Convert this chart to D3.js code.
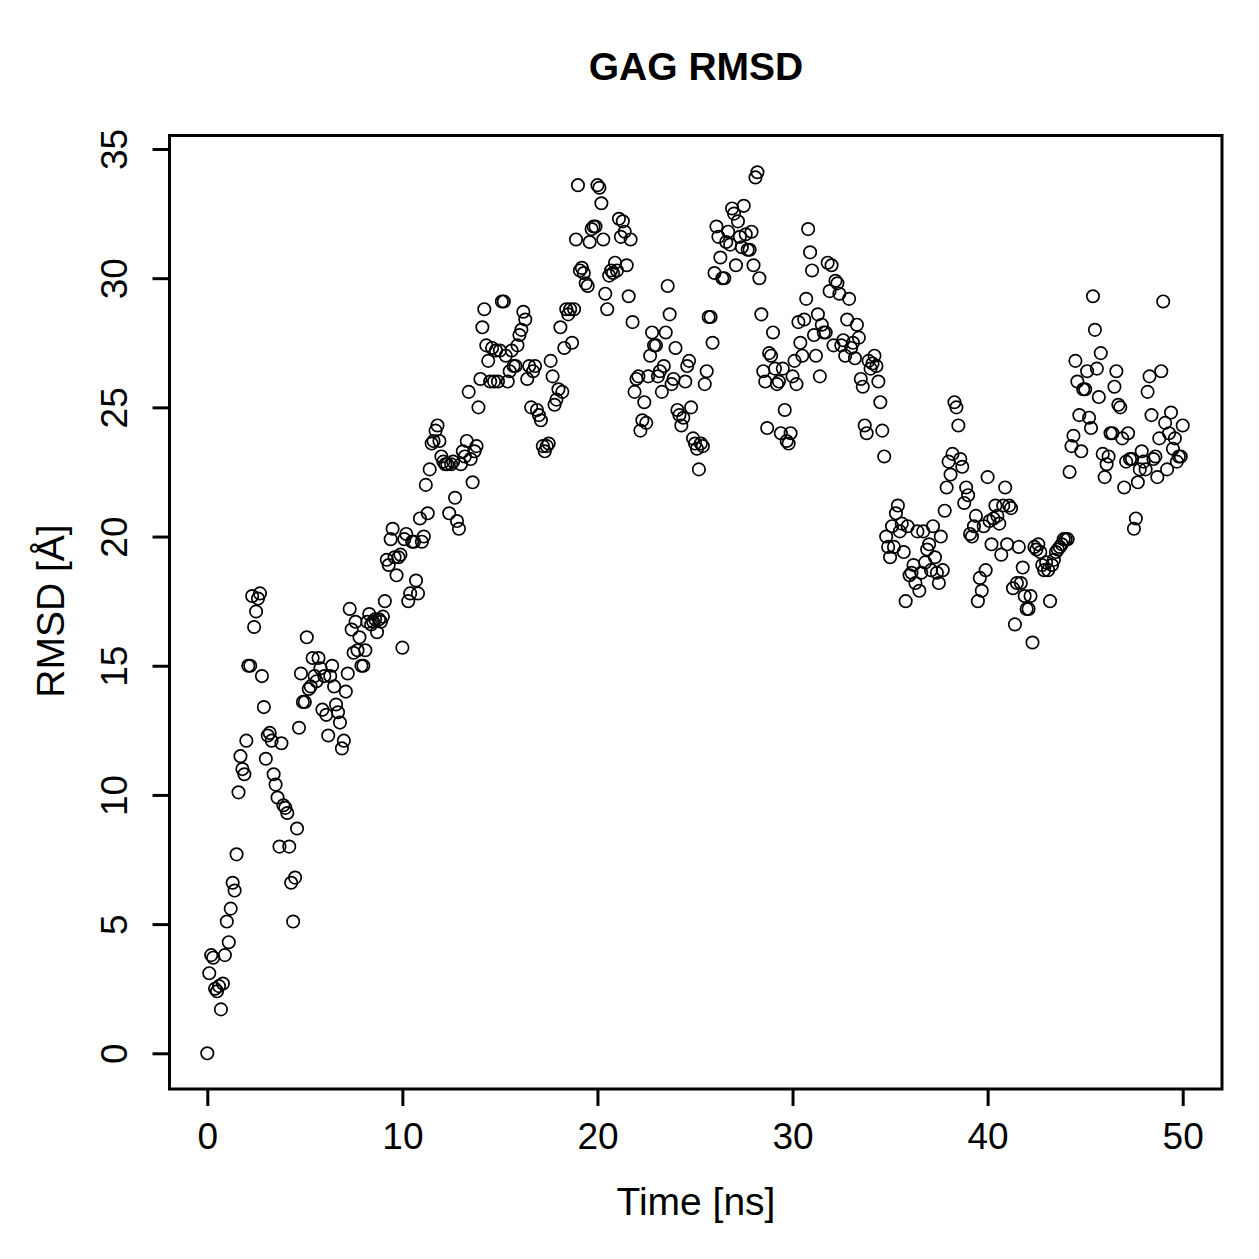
<!DOCTYPE html>
<html>
<head>
<meta charset="utf-8">
<script src="https://cdn.jsdelivr.net/npm/d3@7"></script>
<style>
  body { margin: 0; background: #fff; }
  text { font-family: "Liberation Sans", Arial, Helvetica, sans-serif; fill: #000; }
</style>
</head>
<body>
<div id="container"></div>
<script>
// sampling step of the trajectory (ns)
const timeStep = 0.1;

// RMSD values (Angstrom), one per frame
const rmsd0to10 = [
  0, 3.1, 3.8, 3.7, 2.5, 2.4, 2.6, 1.7, 2.7, 3.8,
  5.1, 4.3, 5.6, 6.6, 6.3, 7.7, 10.1, 11.5, 11.0, 10.8,
  12.1, 15.0, 15.0, 17.7, 16.5, 17.1, 17.6, 17.8, 14.6, 13.4,
  11.4, 12.3, 12.4, 12.1, 10.8, 10.4, 9.9, 8.0, 12.0, 9.6,
  9.5, 9.3, 8.0, 6.6, 5.1, 6.8, 8.7, 12.6, 14.7, 13.6,
  13.6, 16.1, 14.1, 14.2, 15.3, 14.6, 14.4, 15.3, 14.9, 13.3,
  14.6, 13.1, 12.3, 14.6, 15.0, 14.2, 13.5, 13.2, 12.8, 11.8,
  12.1, 14.0, 14.7, 17.2, 16.4, 15.5, 16.7, 15.6, 16.1, 15.0,
  15.0, 15.6, 16.7, 17.0, 16.6, 16.7, 16.8, 16.3, 16.8, 16.7,
  16.9, 17.5, 19.1, 18.9, 19.9, 20.3, 19.2, 18.5, 19.2, 19.3
];
const rmsd10to20 = [
  15.7, 19.9, 20.1, 17.5, 17.8, 19.8, 19.8, 18.3, 17.8, 20.7,
  19.8, 20.0, 22.0, 20.9, 22.6, 23.6, 23.7, 24.1, 24.3, 23.7,
  23.1, 22.9, 22.8, 22.8, 20.9, 22.8, 22.9, 21.5, 20.6, 20.3,
  22.8, 23.3, 23.1, 23.7, 25.6, 23.0, 22.1, 23.3, 23.5, 25.0,
  26.1, 28.1, 28.8, 27.4, 26.8, 26.0, 27.3, 26.0, 27.2, 26.0,
  27.2, 29.1, 29.1, 27.0, 26.0, 26.4, 27.2, 26.6, 26.6, 27.4,
  27.8, 28.0, 28.7, 28.4, 26.1, 26.6, 25.0, 26.4, 26.6, 24.9,
  24.7, 24.5, 23.5, 23.3, 23.5, 23.6, 26.8, 26.2, 25.1, 25.3,
  25.7, 28.1, 25.6, 27.3, 28.8, 28.6, 28.8, 27.5, 28.8, 31.5,
  33.6, 30.3, 30.4, 30.2, 29.8, 29.7, 31.4, 31.9, 32.0, 32.0
];
const rmsd20to30 = [
  33.6, 33.5, 32.9, 31.5, 29.4, 28.8, 30.1, 30.3, 30.2, 30.6,
  30.3, 32.3, 31.6, 32.2, 31.8, 30.5, 29.3, 31.5, 28.3, 25.6,
  26.1, 26.2, 24.1, 24.5, 25.2, 24.4, 26.2, 27.0, 27.9, 27.4,
  27.4, 26.2, 26.4, 25.6, 26.6, 27.9, 29.7, 28.6, 25.9, 26.1,
  27.3, 24.9, 24.7, 24.3, 24.6, 26.0, 26.6, 26.8, 25.0, 23.8,
  23.6, 23.4, 22.6, 23.6, 23.5, 25.9, 26.4, 28.5, 28.5, 27.5,
  30.2, 32.0, 31.6, 30.8, 30.0, 30.0, 31.4, 31.8, 31.3, 32.7,
  32.5, 30.5, 32.2, 31.6, 31.2, 32.8, 31.7, 31.1, 31.1, 31.8,
  30.5, 33.9, 34.1, 30.0, 28.6, 26.4, 26.0, 24.2, 27.1, 27.0,
  27.9, 26.5, 25.9, 26.0, 24.0, 26.5, 24.9, 23.7, 23.6, 24.0
];
const rmsd30to40 = [
  26.2, 26.8, 25.9, 28.3, 27.5, 27.0, 28.4, 29.2, 31.9, 31.0,
  30.3, 27.8, 27.0, 28.6, 26.2, 28.2, 27.9, 27.9, 30.6, 29.5,
  30.5, 27.4, 29.9, 29.8, 29.4, 27.4, 27.6, 27.0, 28.4, 29.2,
  27.3, 27.5, 26.9, 28.2, 27.7, 26.1, 25.8, 24.3, 24.0, 26.8,
  26.5, 26.7, 27.0, 26.6, 26.0, 25.2, 24.1, 23.1, 20.0, 19.6,
  19.2, 20.4, 19.6, 20.9, 21.2, 20.2, 20.5, 19.4, 17.5, 20.4,
  18.5, 18.6, 18.9, 18.2, 20.2, 17.9, 18.6, 20.2, 19.0, 19.5,
  19.7, 18.7, 20.4, 19.2, 18.6, 18.2, 20.0, 18.7, 21.0, 21.9,
  22.9, 22.4, 23.2, 25.2, 25.0, 24.3, 23.0, 22.7, 21.3, 21.9,
  21.6, 20.1, 20.0, 20.4, 20.8, 17.5, 18.4, 17.9, 20.4, 18.7
];
const rmsd40to50 = [
  22.3, 20.6, 19.7, 20.7, 21.2, 20.8, 20.5, 19.3, 21.2, 21.9,
  19.7, 21.2, 21.1, 18.0, 16.6, 18.2, 19.6, 18.2, 18.8, 17.7,
  17.2, 17.2, 17.7, 15.9, 19.6, 19.5, 19.7, 19.4, 18.9, 18.7,
  19.0, 18.7, 17.5, 18.9, 19.1, 19.4, 19.5, 19.6, 19.7, 19.9,
  19.9, 19.9, 22.5, 23.5, 23.9, 26.8, 26.0, 24.7, 23.3, 25.7,
  25.7, 26.4, 24.6, 24.2, 29.3, 28.0, 26.5, 25.4, 27.1, 23.2,
  22.3, 22.8, 23.1, 24.0, 24.0, 25.8, 26.4, 25.1, 25.0, 23.8,
  21.9, 22.9, 24.0, 23.0, 23.0, 20.3, 20.7, 22.1, 22.6, 23.3,
  22.9, 22.6, 25.6, 26.2, 24.7, 23.0, 23.1, 22.3, 23.8, 26.4,
  29.1, 24.4, 22.6, 24.0, 24.8, 23.4, 23.8, 22.9, 23.1, 23.1,
  24.3
];

const xTicks = [0, 10, 20, 30, 40, 50];
const yTicks = [0, 5, 10, 15, 20, 25, 30, 35];

const rmsd = [].concat(rmsd0to10, rmsd10to20, rmsd20to30, rmsd30to40, rmsd40to50);
const data = rmsd.map((v, i) => ({ t: i * timeStep, v: v }));

const w = 1259;
const h = 1259;
const box = { left: 169.5, right: 1222, top: 135.5, bottom: 1089 };

const svg = d3.select("#container")
  .append("svg")
  .attr("width", w)
  .attr("height", h);

const xScale = d3.scaleLinear().domain([0, 50]).range([207.3, 1182.7]);
const yScale = d3.scaleLinear().domain([0, 35]).range([1053.3, 149]);

// points
svg.append("g")
  .selectAll("circle")
  .data(data)
  .enter()
  .append("circle")
  .attr("cx", (d) => xScale(d.t))
  .attr("cy", (d) => yScale(d.v))
  .attr("r", 6.2)
  .attr("fill", "none")
  .attr("stroke", "#000")
  .attr("stroke-width", 1.7);

// frame
svg.append("rect")
  .attr("x", box.left)
  .attr("y", box.top)
  .attr("width", box.right - box.left)
  .attr("height", box.bottom - box.top)
  .attr("fill", "none")
  .attr("stroke", "#000")
  .attr("stroke-width", 3);

// x axis
const xAxis = svg.append("g")
  .attr("transform", "translate(0," + box.bottom + ")")
  .call(d3.axisBottom(xScale).tickValues(xTicks).tickSize(17).tickPadding(17));
xAxis.select(".domain").remove();
xAxis.selectAll("line").attr("stroke", "#000").attr("stroke-width", 3);
xAxis.selectAll("text")
  .attr("font-size", 37)
  .attr("font-family", "Liberation Sans, Arial, sans-serif")
  .attr("fill", "#000");

// y axis
const yAxis = svg.append("g")
  .attr("transform", "translate(" + box.left + ",0)")
  .call(d3.axisLeft(yScale).tickValues(yTicks).tickSize(17));
yAxis.select(".domain").remove();
yAxis.selectAll("line").attr("stroke", "#000").attr("stroke-width", 3);
yAxis.selectAll("text")
  .attr("x", 0)
  .attr("y", 0)
  .attr("dy", null)
  .attr("text-anchor", "middle")
  .attr("transform", "translate(-43,0) rotate(-90)")
  .attr("font-size", 37)
  .attr("font-family", "Liberation Sans, Arial, sans-serif")
  .attr("fill", "#000");

// titles
svg.append("text")
  .attr("x", 696)
  .attr("y", 80)
  .attr("text-anchor", "middle")
  .attr("font-size", 39)
  .attr("font-weight", "bold")
  .text("GAG RMSD");

svg.append("text")
  .attr("x", 696)
  .attr("y", 1215)
  .attr("text-anchor", "middle")
  .attr("font-size", 39)
  .text("Time [ns]");

svg.append("text")
  .attr("transform", "translate(64,611) rotate(-90)")
  .attr("text-anchor", "middle")
  .attr("font-size", 39)
  .text("RMSD [Å]");
</script>
</body>
</html>
